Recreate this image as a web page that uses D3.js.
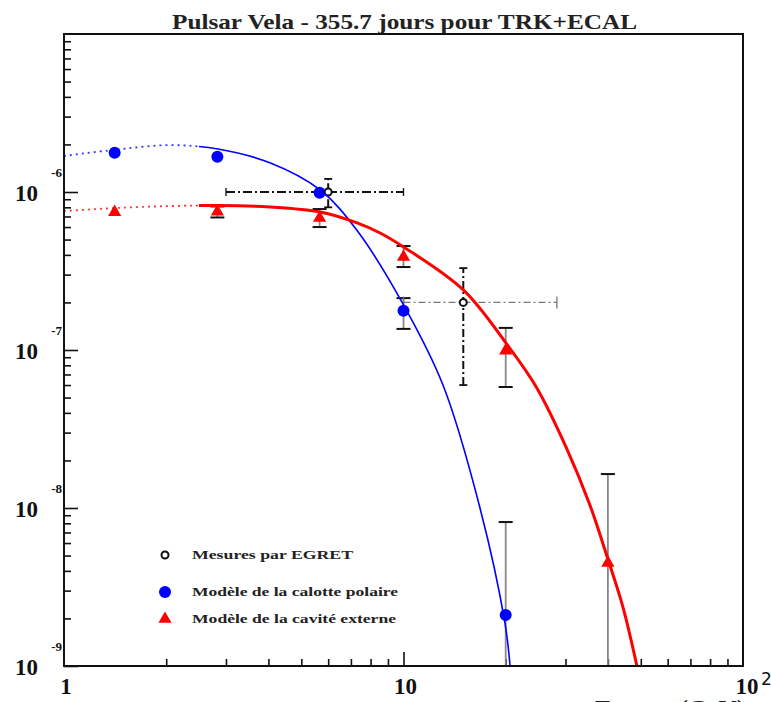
<!DOCTYPE html>
<html><head><meta charset="utf-8">
<script src="https://cdn.jsdelivr.net/npm/d3@7"></script>
<style>html,body{margin:0;padding:0;background:#fff;} svg{display:block;}</style>
</head><body>
<script>
// ---------- DATA ----------
const chartTitle = "Pulsar Vela - 355.7 jours pour TRK+ECAL";
const xAxisTitle = "Energy (GeV)";
const xMajorTicks = [1, 10, 100];
const xTickLabels = ["1", "10", "10"];
const xTickExponents = ["", "", "2"];
const yMajorTicks = [1e-9, 1e-8, 1e-7, 1e-6];
const yTickLabels = ["10", "10", "10", "10"];
const yTickExponents = ["-9", "-8", "-7", "-6"];
const legendLabels = ["Mesures par EGRET", "Modèle de la calotte polaire", "Modèle de la cavité externe"];

// EGRET measurements
const egretX    = [6, 15];
const egretY    = [1.0e-6, 2.0e-7];
const egretXLo  = [3, 10];
const egretXHi  = [10, 28.3];
const egretYLo  = [8.0e-7, 6.0e-8];
const egretYHi  = [1.21e-6, 3.3e-7];

// Polar cap model (blue)
const polarX   = [1.41, 2.83, 5.66, 10, 20];
const polarY   = [1.77e-6, 1.67e-6, 0.99e-6, 1.77e-7, 2.1e-9];
const polarYLo = [null, null, null, 1.36e-7, 1e-10];
const polarYHi = [null, null, null, 2.13e-7, 8.15e-9];

// Outer gap model (red)
const outerX   = [1.41, 2.83, 5.66, 10, 20, 40];
const outerY   = [7.46e-7, 7.5e-7, 6.84e-7, 3.88e-7, 9.9e-8, 4.49e-9];
const outerYLo = [null, 6.9e-7, 6.0e-7, 3.35e-7, 5.83e-8, 1e-10];
const outerYHi = [null, 8.1e-7, 7.8e-7, 4.55e-7, 1.38e-7, 1.64e-8];

// Model curves
const polarCurveX = [1, 1.41, 2.05, 2.84, 4.04, 5.68, 7.3, 10, 13.07, 16.8, 19.9, 20.6];
const polarCurveY = [1.69e-6, 1.85e-6, 1.98e-6, 1.87e-6, 1.53e-6, 1.03e-6, 5.7e-7, 1.93e-7, 6.0e-8, 1.0e-8, 1.87e-9, 1.0e-9];
const outerCurveX = [1, 1.42, 2.05, 2.84, 4.04, 5.68, 7.3, 8.53, 10, 15, 20.2, 24.7, 30.3, 35.4, 40, 44.3, 48.7];
const outerCurveY = [7.58e-7, 7.92e-7, 8.15e-7, 8.21e-7, 8.04e-7, 7.47e-7, 6.37e-7, 5.5e-7, 4.49e-7, 2.4e-7, 1.08e-7, 5.75e-8, 2.36e-8, 1.045e-8, 4.75e-9, 2.36e-9, 1.0e-9];
const dottedUpTo = 2.5;

// ---------- DRAW ----------
const W = 771, H = 702;
const L = 64, R = 743, T = 34, B = 666;
const svg = d3.select("body").append("svg").attr("width", W).attr("height", H);
const x = d3.scaleLog().domain([1, 100]).range([L, R]);
const y = d3.scaleLog().domain([1e-9, 1e-5]).range([B, T]);
const serif = "'Liberation Serif','Times New Roman',serif";

const defs = svg.append("defs");
defs.append("clipPath").attr("id", "plot").append("rect").attr("x", L).attr("y", T).attr("width", R - L).attr("height", B - T);
defs.append("clipPath").attr("id", "dotpart").append("rect").attr("x", L).attr("y", T).attr("width", x(dottedUpTo) - L).attr("height", B - T);
defs.append("clipPath").attr("id", "solidpart").append("rect").attr("x", x(dottedUpTo)).attr("y", T).attr("width", R - x(dottedUpTo)).attr("height", B - T);

// title
svg.append("text").attr("x", 172).attr("y", 29).attr("textLength", 465).attr("lengthAdjust", "spacingAndGlyphs")
  .attr("font-family", serif).attr("font-size", 21).attr("font-weight", "bold").attr("fill", "#222").text(chartTitle);

// x axis title (partially cut at bottom, as in the reference)
svg.append("text").attr("x", 595).attr("y", 716).attr("textLength", 150).attr("lengthAdjust", "spacingAndGlyphs")
  .attr("font-family", serif).attr("font-size", 24).attr("font-weight", "bold").attr("fill", "#222").text(xAxisTitle);

// minor tick values
const xMinor = [];
[1, 10].forEach(d => { for (let k = 2; k <= 9; k++) xMinor.push(k * d); });
const yMinor = [];
[1e-9, 1e-8, 1e-7, 1e-6].forEach(d => { for (let k = 2; k <= 9; k++) yMinor.push(k * d); });

// axes (ticks inside)
const gxMaj = svg.append("g").attr("transform", `translate(0,${B})`)
  .call(d3.axisTop(x).tickValues([10]).tickSize(14).tickFormat(""));
const gxMin = svg.append("g").attr("transform", `translate(0,${B})`)
  .call(d3.axisTop(x).tickValues(xMinor).tickSize(7).tickFormat(""));
const gyMaj = svg.append("g").attr("transform", `translate(${L},0)`)
  .call(d3.axisRight(y).tickValues(yMajorTicks).tickSize(14).tickFormat(""));
const gyMin = svg.append("g").attr("transform", `translate(${L},0)`)
  .call(d3.axisRight(y).tickValues(yMinor).tickSize(7).tickFormat(""));
[gxMaj, gxMin, gyMaj, gyMin].forEach(g => {
  g.select(".domain").remove();
  g.selectAll(".tick line").attr("stroke", "#111").attr("stroke-width", 1.6);
});

// y labels
yMajorTicks.forEach((v, i) => {
  svg.append("text").attr("x", 38).attr("y", y(v) + 9).attr("text-anchor", "end")
    .attr("font-family", serif).attr("font-size", 23).attr("font-weight", "bold").attr("fill", "#111").text(yTickLabels[i]);
  svg.append("text").attr("x", 62).attr("y", y(v) - 15).attr("text-anchor", "end")
    .attr("font-family", serif).attr("font-size", 13).attr("font-weight", "bold").attr("fill", "#111").text(yTickExponents[i]);
});
// x labels
xMajorTicks.forEach((v, i) => {
  const cx = v === 100 ? x(v) + 4 : x(v) + 2;
  svg.append("text").attr("x", cx).attr("y", 694).attr("text-anchor", "middle")
    .attr("font-family", serif).attr("font-size", 23).attr("font-weight", "bold").attr("fill", "#111").text(xTickLabels[i]);
  if (xTickExponents[i]) {
    svg.append("text").attr("x", cx + 14).attr("y", 685).attr("text-anchor", "start")
      .attr("font-family", "'DejaVu Sans',sans-serif").attr("font-size", 17).attr("fill", "#111").text(xTickExponents[i]);
  }
});

const plot = svg.append("g").attr("clip-path", "url(#plot)");

// error bars of models
function modelErrors(xs, ys, lo, hi) {
  xs.forEach((xv, i) => {
    if (lo[i] == null) return;
    const px = x(xv);
    plot.append("line").attr("x1", px).attr("x2", px).attr("y1", y(lo[i])).attr("y2", y(hi[i]))
      .attr("stroke", "#888").attr("stroke-width", 1.8);
    [lo[i], hi[i]].forEach(v => {
      plot.append("line").attr("x1", px - 7).attr("x2", px + 7).attr("y1", y(v)).attr("y2", y(v))
        .attr("stroke", "#111").attr("stroke-width", 2);
    });
  });
}
modelErrors(polarX, polarY, polarYLo, polarYHi);
modelErrors(outerX, outerY, outerYLo, outerYHi);

// EGRET error bars
egretX.forEach((xv, i) => {
  const px = x(xv), py = y(egretY[i]);
  const first = i === 0;
  plot.append("line").attr("x1", x(egretXLo[i])).attr("x2", x(egretXHi[i])).attr("y1", py).attr("y2", py)
    .attr("stroke", first ? "#111" : "#777").attr("stroke-width", first ? 2 : 1.3)
    .attr("stroke-dasharray", first ? "9,3,2,3" : "7,3,2,3");
  [egretXLo[i], egretXHi[i]].forEach(v => {
    plot.append("line").attr("x1", x(v)).attr("x2", x(v)).attr("y1", py - (first ? 4 : 6)).attr("y2", py + (first ? 4 : 6))
      .attr("stroke", first ? "#111" : "#777").attr("stroke-width", 1.3);
  });
  plot.append("line").attr("x1", px).attr("x2", px).attr("y1", y(egretYLo[i])).attr("y2", y(egretYHi[i]))
    .attr("stroke", "#111").attr("stroke-width", 2).attr("stroke-dasharray", "8,3,2,3");
  [egretYLo[i], egretYHi[i]].forEach(v => {
    plot.append("line").attr("x1", px - 4).attr("x2", px + 4).attr("y1", y(v)).attr("y2", y(v))
      .attr("stroke", "#111").attr("stroke-width", 1.8);
  });
});

// curves
const line = d3.line().x(d => x(d[0])).y(d => y(d[1])).curve(d3.curveCatmullRom.alpha(0.5));
const polarCurve = polarCurveX.map((v, i) => [v, polarCurveY[i]]);
const outerCurve = outerCurveX.map((v, i) => [v, outerCurveY[i]]);
function drawCurve(data, color, w) {
  const g1 = svg.append("g").attr("clip-path", "url(#dotpart)");
  g1.append("path").attr("d", line(data)).attr("fill", "none").attr("stroke", color)
    .attr("stroke-width", 1.8).attr("stroke-dasharray", "2,4").attr("opacity", 0.8);
  const g2 = svg.append("g").attr("clip-path", "url(#solidpart)");
  g2.append("path").attr("d", line(data)).attr("fill", "none").attr("stroke", color).attr("stroke-width", w);
}
drawCurve(polarCurve, "#0000ff", 1.6);
drawCurve(outerCurve, "#ff0000", 3);

// markers
const tri = d3.symbol().type(d3.symbolTriangle).size(75);
polarX.forEach((xv, i) => {
  plot.append("circle").attr("cx", x(xv)).attr("cy", y(polarY[i])).attr("r", 6).attr("fill", "#0000ff");
});
outerX.forEach((xv, i) => {
  plot.append("path").attr("d", tri).attr("transform", `translate(${x(xv)},${y(outerY[i])})`).attr("fill", "#ff0000");
});
egretX.forEach((xv, i) => {
  plot.append("circle").attr("cx", x(xv)).attr("cy", y(egretY[i])).attr("r", 3.5)
    .attr("fill", "#fff").attr("stroke", "#111").attr("stroke-width", 2);
});

// frame
svg.append("rect").attr("x", L).attr("y", T).attr("width", R - L).attr("height", B - T)
  .attr("fill", "none").attr("stroke", "#111").attr("stroke-width", 2);

// legend
const legY = [555, 592, 619];
const legLen = [161, 206, 204];
svg.append("circle").attr("cx", 165).attr("cy", legY[0]).attr("r", 3.5).attr("fill", "#fff").attr("stroke", "#111").attr("stroke-width", 2);
svg.append("circle").attr("cx", 165).attr("cy", legY[1]).attr("r", 6).attr("fill", "#0000ff");
svg.append("path").attr("d", tri).attr("transform", `translate(165,${legY[2]})`).attr("fill", "#ff0000");
legendLabels.forEach((t, i) => {
  svg.append("text").attr("x", 192).attr("y", legY[i] + 4).attr("textLength", legLen[i]).attr("lengthAdjust", "spacingAndGlyphs")
    .attr("font-family", serif).attr("font-size", 12).attr("font-weight", "bold").attr("fill", "#222").text(t);
});
</script>
</body></html>
